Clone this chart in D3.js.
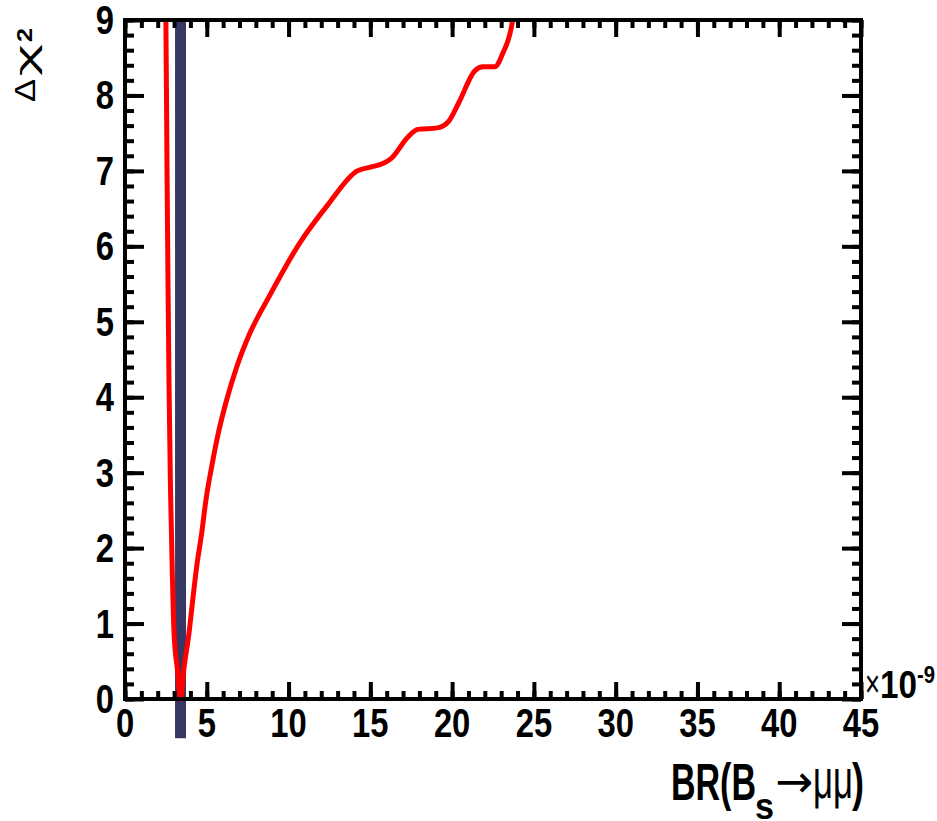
<!DOCTYPE html>
<html>
<head>
<meta charset="utf-8">
<script src="https://cdn.jsdelivr.net/npm/d3@7"></script>
<style>
  body { margin: 0; background: #fff; }
  svg { display: block; }
  text { font-family: "Liberation Sans", Arial, sans-serif; fill: #000; }
</style>
</head>
<body>
<div id="chart"></div>
<script>
// Delta chi2 profile vs BR(Bs -> mu mu), in units of 1e-9
const brValues = [2.46, 2.5, 2.57, 2.63, 2.69, 2.78, 2.9, 3.0, 3.2, 3.4,
  3.6, 3.91, 4.14, 4.38, 4.69, 4.95, 5.3, 5.7, 6.21, 6.83, 7.64, 8.8, 10.7,
  12.4, 14.2, 15.0, 15.8, 16.3, 17.3, 17.9, 19.1, 19.8, 20.4, 21.4, 21.9,
  22.6, 23.1, 23.7, 23.85];
const dchi2Values = [9.4, 9.0, 7.0, 5.5, 4.2, 2.8, 1.6, 0.87, 0.4, 0.0,
  0.4, 0.87, 1.31, 1.75, 2.2, 2.64, 3.08, 3.52, 3.96, 4.4, 4.85, 5.33, 6.05,
  6.55, 7.0, 7.05, 7.1, 7.17, 7.45, 7.55, 7.57, 7.66, 7.9, 8.33, 8.38,
  8.38, 8.56, 9.0, 9.3];
// measured band (x range) and its vertical extent
const bandRange = [3.06, 3.73];
const bandY = [-0.52, 9];

const xTicks = [0, 5, 10, 15, 20, 25, 30, 35, 40, 45];
const yTicks = [0, 1, 2, 3, 4, 5, 6, 7, 8, 9];
const xMinor = d3.range(0, 46, 1);
const yMinor = d3.range(0, 9.01, 0.2);

const width = 937, height = 821;
const margin = { top: 20, right: 76, bottom: 122, left: 125 };
const x0 = margin.left, x1 = width - margin.right;
const y0 = height - margin.bottom, y1 = margin.top;

const svg = d3.select("#chart").append("svg")
  .attr("width", width).attr("height", height);

const x = d3.scaleLinear().domain([0, 45]).range([x0, x1]);
const y = d3.scaleLinear().domain([0, 9]).range([y0, y1]);

svg.append("defs").append("clipPath").attr("id", "clip")
  .append("rect").attr("x", x0).attr("y", y1).attr("width", x1 - x0).attr("height", height - y1);

// band
svg.append("rect")
  .attr("x", x(bandRange[0])).attr("width", x(bandRange[1]) - x(bandRange[0]))
  .attr("y", y(bandY[1])).attr("height", y(bandY[0]) - y(bandY[1]))
  .attr("fill", "#363762");

// curve
const pts = brValues.map((v, i) => [v, dchi2Values[i]]);
const line = d3.line().x(d => x(d[0])).y(d => y(d[1])).curve(d3.curveMonotoneX);
svg.append("path").datum(pts)
  .attr("clip-path", "url(#clip)")
  .attr("fill", "none").attr("stroke", "#ff0000").attr("stroke-width", 5)
  .attr("d", line);

// ticks via axes
function ticks(axis, transform) {
  const g = svg.append("g").attr("transform", transform).call(axis);
  g.select(".domain").remove();
  g.selectAll("line").attr("stroke", "#000").attr("stroke-width", 4);
  g.selectAll("text").remove();
}
ticks(d3.axisBottom(x).tickValues(xMinor).tickSize(-8), `translate(0,${y0})`);
ticks(d3.axisBottom(x).tickValues(xTicks).tickSize(-17), `translate(0,${y0})`);
ticks(d3.axisTop(x).tickValues(xMinor).tickSize(-8), `translate(0,${y1})`);
ticks(d3.axisTop(x).tickValues(xTicks).tickSize(-17), `translate(0,${y1})`);
ticks(d3.axisLeft(y).tickValues(yMinor).tickSize(-9), `translate(${x0},0)`);
ticks(d3.axisLeft(y).tickValues(yTicks).tickSize(-19), `translate(${x0},0)`);
ticks(d3.axisRight(y).tickValues(yMinor).tickSize(-9), `translate(${x1},0)`);
ticks(d3.axisRight(y).tickValues(yTicks).tickSize(-19), `translate(${x1},0)`);

// frame
svg.append("rect").attr("x", x0).attr("y", y1)
  .attr("width", x1 - x0).attr("height", y0 - y1)
  .attr("fill", "none").attr("stroke", "#000").attr("stroke-width", 4);

const sx = 0.82;
// tick labels
svg.selectAll(".xl").data(xTicks).join("text")
  .attr("transform", d => `translate(${x(d)},737) scale(${sx},1)`)
  .style("font-weight", "bold")
  .attr("text-anchor", "middle").attr("font-size", 40).text(d => d);
svg.selectAll(".yl").data(yTicks).join("text")
  .attr("transform", d => `translate(114,${y(d) + 14}) scale(${sx},1)`)
  .style("font-weight", "bold")
  .attr("text-anchor", "end").attr("font-size", 40).text(d => d);

// helper for fixed-width pieces of text
function piece(tx, ty, str, size, len, weight, rot) {
  return svg.append("text")
    .attr("transform", `translate(${tx},${ty})` + (rot ? " rotate(-90)" : ""))
    .attr("font-size", size).style("font-weight", weight)
    .attr("textLength", len).attr("lengthAdjust", "spacingAndGlyphs")
    .text(str);
}

// exponent label
piece(865, 697, "×", 38, 15, "normal");
piece(880, 698, "10", 38, 37, "bold");
piece(917, 683, "-9", 24, 18, "bold");

// x title
piece(671, 800, "BR(B", 52, 85, "bold");
piece(755, 819, "s", 36, 19, "bold");
piece(775, 797, "→", 45, 38, "normal").style("font-family", "'DejaVu Sans'");
piece(813, 798, "μμ", 56, 40, "normal");
piece(852, 800, ")", 52, 12, "bold");

// y title (rotated, reading upwards)
piece(35, 102, "Δ", 30, 23, "normal", true);
piece(36, 76, "χ", 30, 32, "normal", true);
piece(32, 42, "2", 22, 14, "bold", true);
</script>
</body>
</html>
